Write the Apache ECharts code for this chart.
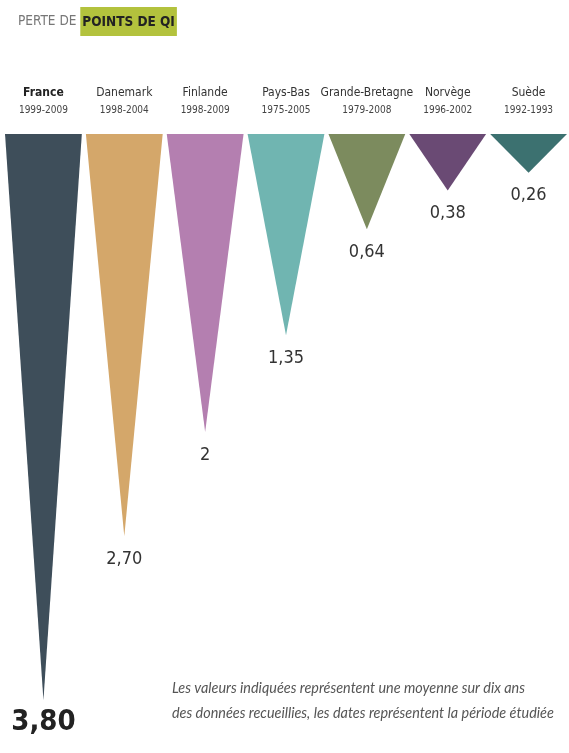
<!DOCTYPE html>
<html><head><meta charset="utf-8">
<script src="https://cdn.jsdelivr.net/npm/echarts@6/dist/echarts.min.js"></script>
<style>html,body{margin:0;padding:0;background:#fff}#c{width:569px;height:753px}</style>
</head><body><div id="c"></div>
<script>
const countries = ['France','Danemark','Finlande','Pays-Bas','Grande-Bretagne','Norvège','Suède'];
const periods = ['1999-2009','1998-2004','1998-2009','1975-2005','1979-2008','1996-2002','1992-1993'];
const values = [3.80, 2.70, 2, 1.35, 0.64, 0.38, 0.26];
const valueLabels = ['3,80','2,70','2','1,35','0,64','0,38','0,26'];
const colors = ['#3e4e5a','#d4a76a','#b47fb0','#70b5b1','#7c8b5e','#6a4a74','#3c7170'];

const chart = echarts.init(document.getElementById('c'));
const font = '"DejaVu Sans Condensed","Liberation Sans Narrow",sans-serif';
chart.setOption({
  animation: false,
  backgroundColor: '#fff',
  title: {
    left: 13, top: 2,
    text: '{a|PERTE DE }{b|POINTS DE QI}',
    textStyle: {
      fontWeight: 'normal',
      rich: {
        a: {fontFamily: font, fontSize: 13.5, fontWeight: 'normal', color: '#777'},
        b: {fontFamily: font, fontSize: 13.5, fontWeight: 'bold', color: '#222', backgroundColor: '#b3c23d', padding: [8, 2, 7, 2]}
      }
    }
  },
  grid: {left: 3, right: -4, top: 134, bottom: 23},
  xAxis: {
    type: 'category', position: 'top', data: countries,
    axisLine: {show: false}, axisTick: {show: false},
    axisLabel: {
      interval: 0, margin: 16,
      formatter: (v, i) => (i === 0 ? '{b|' + v + '}' : '{n|' + v + '}') + '\n{y|' + periods[i] + '}',
      rich: {
        b: {fontFamily: font, fontSize: 12, fontWeight: 'bold', color: '#222', lineHeight: 21},
        n: {fontFamily: font, fontSize: 12, color: '#333', lineHeight: 21},
        y: {fontFamily: font, fontSize: 10, color: '#444', lineHeight: 15}
      }
    }
  },
  yAxis: {type: 'value', inverse: true, min: 0, max: 4, show: false, splitLine: {show: false}},
  series: [{
    type: 'pictorialBar',
    barCategoryGap: 0,
    symbol: 'path://M0,20 L20,20 L10,0 Z',
    symbolSize: ['95%', '100%'],
    symbolPosition: 'start',
    data: values.map((v, i) => ({
      value: v,
      itemStyle: {color: colors[i]},
      label: i === 0 ? {fontSize: 29, fontWeight: 'bold', color: '#222', distance: 8} : {}
    })),
    label: {
      show: true, position: 'bottom', distance: 14,
      fontFamily: font, fontSize: 18, color: '#333',
      formatter: p => valueLabels[p.dataIndex]
    }
  }],
  graphic: [{
    type: 'text', left: 172, top: 676,
    style: {
      text: 'Les valeurs indiquées représentent une moyenne sur dix ans\ndes données recueillies, les dates représentent la période étudiée',
      font: 'italic 14.4px Lato, sans-serif', fill: '#555', lineHeight: 25
    }
  }]
});
</script></body></html>
